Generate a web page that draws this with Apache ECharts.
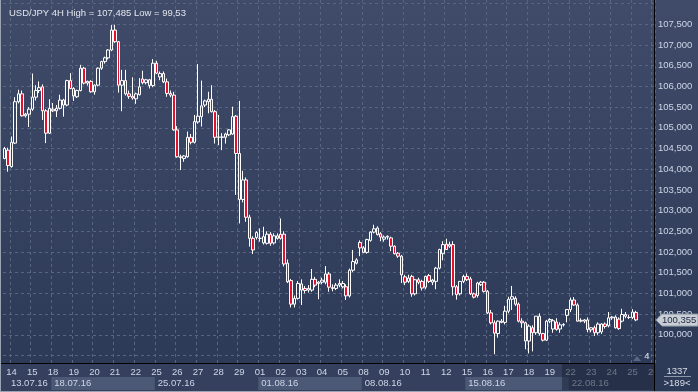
<!DOCTYPE html>
<html><head><meta charset="utf-8">
<script src="https://cdn.jsdelivr.net/npm/echarts@6/dist/echarts.min.js"></script>
<style>
html,body{margin:0;padding:0;width:698px;height:392px;overflow:hidden;background:linear-gradient(#3f4b68,#2c3956);}
#c{width:698px;height:392px;}
</style>
</head><body><div id="c"></div>
<script>
// ---- data ----
const dates = ['13.07.16','14.07.16','15.07.16','18.07.16','19.07.16','20.07.16','21.07.16','22.07.16',
  '25.07.16','26.07.16','27.07.16','28.07.16','29.07.16','01.08.16','02.08.16','03.08.16','04.08.16','05.08.16',
  '08.08.16','09.08.16','10.08.16','11.08.16','12.08.16','15.08.16','16.08.16','17.08.16','18.08.16','19.08.16',
  '22.08.16','23.08.16','24.08.16','25.08.16','26.08.16'];
const hours = ['00:00','04:00','08:00','12:00','16:00','20:00'];
const firstDayHours = ['16:00','20:00'];
const lastDayHours = ['00:00'];
const weekLabels = ['13.07.16','18.07.16','25.07.16','01.08.16','08.08.16','15.08.16','22.08.16'];
const yTickLabels = [100.0,100.5,101.0,101.5,102.0,102.5,103.0,103.5,104.0,104.5,105.0,105.5,106.0,106.5,107.0,107.5];
const yGridValues = [99.5,100.0,100.5,101.0,101.5,102.0,102.5,103.0,103.5,104.0,104.5,105.0,105.5,106.0,106.5,107.0,107.5,108.0];
const titleText = 'USD/JPY 4H High = 107,485 Low = 99,53';
const lastPrice = 100.355;
const barsCount = '1337';
const visibleBars = '>189<';

const open = [104.26,104.46,104.06,104.63,105.63,105.82,105.29,105.33,105.45,105.74,105.90,105.99,105.41,104.87,105.45,105.41,105.47,105.67,105.55,106.14,
105.95,105.75,105.90,106.44,106.08,106.12,105.87,106.03,106.44,106.60,106.69,106.88,107.36,107.08,106.03,106.14,105.82,105.76,105.70,105.80,
106.18,106.09,106.16,106.02,106.56,106.23,106.31,106.11,105.83,105.79,104.95,104.30,104.26,104.30,104.77,104.65,105.14,105.27,105.55,105.63,
105.69,105.39,104.77,104.78,104.77,104.83,104.85,105.28,104.38,103.27,103.74,102.84,102.33,102.35,102.33,102.22,102.21,102.43,102.22,102.39,
102.43,102.43,101.73,101.31,100.74,100.88,101.23,101.12,101.08,101.08,101.34,101.24,101.27,101.27,101.47,101.14,101.12,101.20,101.16,101.16,
100.94,101.56,101.73,102.23,102.10,101.99,102.28,102.48,102.58,102.44,102.31,102.36,102.34,102.14,101.97,101.90,101.40,101.29,101.41,100.99,
101.33,101.29,101.15,101.43,101.27,101.29,101.61,101.96,102.19,102.14,102.18,101.16,100.99,101.29,101.41,101.35,100.99,100.95,101.21,101.27,
101.05,100.53,100.29,100.03,100.33,100.30,100.57,100.86,100.88,100.74,100.33,100.29,99.85,100.17,100.05,100.45,100.03,99.87,100.33,100.14,
100.31,100.14,100.24,100.47,100.61,100.84,100.72,100.35,100.33,100.36,100.12,100.17,100.05,100.07,100.26,100.22,100.41,100.43,100.38,100.33,
100.45,100.42,100.42,100.54];
const high = [104.54,104.52,104.79,105.74,105.92,105.90,105.36,105.50,106.31,106.03,106.12,106.05,105.45,105.69,105.60,105.55,105.80,105.70,106.16,106.32,
105.98,105.92,106.52,106.47,106.14,106.15,106.05,106.46,106.62,106.72,106.90,107.48,107.49,107.10,106.40,106.40,105.90,106.22,105.85,106.20,
106.38,106.18,106.18,106.66,106.62,106.36,106.36,106.19,105.90,105.87,105.04,104.35,104.34,104.91,104.85,105.31,106.54,106.14,105.68,105.87,
106.03,105.43,105.31,104.87,104.88,104.97,105.51,105.31,105.65,103.96,103.80,102.90,102.38,102.50,102.57,102.61,102.50,102.48,102.45,102.45,
102.81,102.50,101.82,101.35,100.95,101.30,101.34,101.18,101.20,101.59,101.40,101.30,101.38,101.66,101.52,101.22,101.25,101.34,101.30,101.22,
101.60,102.05,101.85,102.28,102.14,102.32,102.50,102.66,102.62,102.48,102.40,102.40,102.37,102.16,102.00,101.93,101.45,101.45,101.45,101.35,
101.38,101.33,101.43,101.47,101.35,101.64,102.08,102.26,102.32,102.25,102.26,101.20,101.30,101.45,101.48,101.40,101.02,101.28,101.30,101.30,
101.08,100.60,100.35,100.35,100.38,100.70,100.92,101.18,100.93,100.78,100.40,100.32,100.25,100.23,100.45,100.52,100.05,100.36,100.40,100.38,
100.40,100.30,100.28,100.62,100.90,100.91,100.76,100.40,100.38,100.42,100.18,100.22,100.30,100.28,100.30,100.55,100.45,100.47,100.42,100.63,
100.55,100.48,100.62,100.58];
const low = [104.24,103.94,104.04,104.61,105.59,105.27,105.25,105.02,105.41,105.66,105.84,105.19,104.63,104.85,105.38,105.26,105.44,105.27,105.52,105.93,
105.65,105.72,105.88,106.05,106.02,105.85,105.80,106.00,106.40,106.55,106.65,106.85,107.05,105.85,105.40,105.78,105.70,105.68,105.58,105.78,
106.05,106.05,105.95,105.98,106.30,106.15,106.08,105.75,105.74,104.93,104.28,103.98,104.18,104.28,104.60,104.62,105.10,105.03,105.50,105.35,
105.37,104.62,104.58,104.46,104.62,104.80,104.83,103.38,102.69,103.20,102.73,102.13,101.95,102.30,102.25,102.18,102.18,102.15,102.18,102.30,
102.30,101.65,101.25,100.66,100.66,100.85,100.72,101.00,101.02,101.04,101.15,100.86,101.22,101.22,101.04,101.05,101.08,101.15,101.12,100.84,
100.90,101.52,101.70,101.90,101.97,101.96,102.25,102.45,102.40,102.26,102.25,102.30,102.02,101.94,101.86,101.25,101.20,101.25,100.92,100.95,
101.22,101.07,101.10,101.25,101.20,101.10,101.58,101.80,102.05,102.10,100.95,100.85,100.95,101.25,101.30,100.96,100.88,100.90,101.18,101.02,
100.50,100.25,99.53,99.93,100.28,100.25,100.52,100.60,100.70,100.30,100.17,99.65,99.55,99.60,100.00,99.98,99.84,99.85,100.28,100.05,
100.10,100.05,100.20,100.30,100.55,100.70,100.32,100.30,100.28,100.06,100.06,99.97,100.00,100.02,100.15,100.18,100.36,100.15,100.12,100.30,
100.40,100.38,100.38,100.33];
const close = [104.50,104.09,104.65,105.63,105.82,105.29,105.33,105.45,105.74,105.90,105.97,105.41,104.87,105.47,105.41,105.47,105.67,105.55,106.14,105.95,
105.77,105.90,106.44,106.08,106.12,105.87,106.03,106.44,106.60,106.69,106.88,107.36,107.08,106.03,106.14,105.82,105.76,105.72,105.82,105.99,
106.09,106.16,106.02,106.56,106.32,106.31,106.11,105.83,105.79,104.95,104.30,104.28,104.32,104.77,104.65,105.15,105.28,105.53,105.65,105.69,
105.39,104.77,104.78,104.77,104.85,104.95,105.27,104.38,103.27,103.74,102.84,102.33,102.05,102.47,102.33,102.37,102.43,102.21,102.39,102.33,
102.33,101.71,101.28,100.74,100.88,101.24,101.08,101.07,101.12,101.34,101.20,101.27,101.32,101.47,101.15,101.12,101.20,101.24,101.24,100.94,
101.56,101.77,101.81,102.10,101.99,102.30,102.48,102.56,102.42,102.36,102.36,102.38,102.14,101.96,101.90,101.45,101.27,101.37,100.99,101.33,
101.27,101.13,101.41,101.29,101.32,101.61,102.06,102.18,102.06,102.18,101.16,100.97,101.29,101.41,101.33,100.99,100.91,101.25,101.27,101.05,
100.53,100.29,100.04,100.33,100.30,100.57,100.86,100.92,100.74,100.33,100.29,99.85,100.21,100.05,100.45,100.03,99.87,100.33,100.37,100.34,
100.13,100.24,100.25,100.61,100.84,100.72,100.33,100.33,100.36,100.13,100.17,100.05,100.26,100.26,100.20,100.41,100.43,100.17,100.15,100.49,
100.49,100.42,100.55,100.36];

// ---- build categories ----
const categories = [];
const dayOfSlot = [];
dates.forEach((d, di) => {
  const hs = di === 0 ? firstDayHours : (di === dates.length - 1 ? lastDayHours : hours);
  hs.forEach(h => { categories.push(d + ' ' + h); dayOfSlot.push(di); });
});
const isDayStart = i => i > 0 && dayOfSlot[i] !== dayOfSlot[i - 1];
const candleData = open.map((o, i) => [o, close[i], low[i], high[i]]);
const fmt = v => v.toFixed(3).replace('.', ',');

const FONT = 'Liberation Sans';
const chart = echarts.init(document.getElementById('c'), null, {renderer: 'canvas'});
const option = {
  animation: false,
  backgroundColor: 'transparent',
  title: {text: titleText, left: 4, top: 3,
    textStyle: {color: '#e0e5ee', fontSize: 9.5, fontWeight: 'normal', fontFamily: FONT}},
  grid: {left: 3, right: 43, top: 0, bottom: 29},
  xAxis: [{
    type: 'category', data: categories, boundaryGap: true,
    axisLine: {show: false}, axisTick: {show: false},
    axisLabel: {interval: (i) => isDayStart(i), formatter: v => v.slice(0, 2),
      color: '#cdd6e6', fontSize: 9.5, fontFamily: FONT, margin: 4},
    splitLine: {show: true, interval: (i) => isDayStart(i),
      lineStyle: {color: '#58657f', type: [3, 3], width: 1}}
  }],
  yAxis: [{
    type: 'value', position: 'right', min: 99.319, max: 108.087, scale: true,
    axisLine: {show: false},
    axisTick: {show: false, customValues: yGridValues},
    axisLabel: {customValues: yTickLabels, formatter: fmt, color: '#cdd6e6', fontSize: 9.5,
      fontFamily: FONT, margin: 3, align: 'left'},
    splitLine: {show: true, lineStyle: {color: '#58657f', type: [3, 3], width: 1}}
  }],
  series: [{
    type: 'candlestick', data: candleData, barWidth: 3,
    itemStyle: {color: 'rgba(0,0,0,0)', color0: '#e6102e', borderColor: '#ffffff', borderColor0: '#ffffff', borderWidth: 1},
    emphasis: {disabled: true}, silent: true
  }]
};
chart.setOption(option);

// ---- panels and labels positioned through the chart's scales ----
const px = i => chart.convertToPixel({xAxisIndex: 0}, i);
const bw = px(1) - px(0);
const edge = i => px(i) - bw / 2;
const plotRight = edge(categories.length - 1) + bw;
const axisY = chart.convertToPixel({yAxisIndex: 0}, 99.319);
const g = [];
g.push({type: 'rect', z: -10, shape: {x: 0, y: axisY, width: plotRight, height: 392 - axisY}, style: {fill: '#34405d'}});
// week bands and labels
const mondays = [];
for (let i = 0; i < categories.length; i++) {
  if (isDayStart(i) && weekLabels.indexOf(dates[dayOfSlot[i]]) >= 0) mondays.push(i);
}
mondays.forEach((m, k) => {
  const next = k + 1 < mondays.length ? mondays[k + 1] : categories.length;
  if (k % 2 === 0) {
    g.push({type: 'rect', z: -9, shape: {x: edge(m), y: axisY + 14, width: edge(next) - edge(m), height: 13}, style: {fill: '#4b5876'}});
  }
  g.push({type: 'text', z: 5, x: edge(m) + 3, y: axisY + 20.5,
    style: {text: dates[dayOfSlot[m]], fill: '#cdd6e6', font: '9.5px ' + FONT, verticalAlign: 'middle'}});
});
// first (partial) week label
const firstDay = categories.findIndex((c, i) => isDayStart(i));
g.push({type: 'text', z: 5, x: edge(firstDay) + 1, y: axisY + 20.5,
  style: {text: weekLabels[0], fill: '#cdd6e6', font: '9.5px ' + FONT, verticalAlign: 'middle'}});
// dimmed overlay on the right of the time scale
g.push({type: 'rect', z: 60, shape: {x: 562, y: axisY, width: plotRight - 562, height: 392 - axisY - 2}, style: {fill: 'rgba(28,36,56,0.55)'}});
// right bottom panel
g.push({type: 'rect', z: 61, shape: {x: plotRight, y: axisY, width: 698 - plotRight, height: 392 - axisY}, style: {fill: '#2d3a57'}});
g.push({type: 'text', z: 62, x: 677, y: axisY + 8, style: {text: barsCount, fill: '#d8dee8', font: '9.5px ' + FONT, align: 'center', verticalAlign: 'middle'}});
g.push({type: 'line', z: 62, shape: {x1: 664, y1: axisY + 13.5, x2: 691, y2: axisY + 13.5}, style: {stroke: '#8d97aa', lineWidth: 1}});
g.push({type: 'text', z: 62, x: 677, y: axisY + 20.5, style: {text: visibleBars, fill: '#d8dee8', font: '9.5px ' + FONT, align: 'center', verticalAlign: 'middle'}});
// separator lines
g.push({type: 'line', z: 70, shape: {x1: 0, y1: Math.round(axisY) + 0.5, x2: plotRight, y2: Math.round(axisY) + 0.5}, style: {stroke: '#000', lineWidth: 1}});
g.push({type: 'line', z: 70, shape: {x1: Math.round(plotRight) - 0.5, y1: 0, x2: Math.round(plotRight) - 0.5, y2: 392}, style: {stroke: '#000', lineWidth: 1}});
// window border
g.push({type: 'line', z: 70, shape: {x1: 0.5, y1: 0, x2: 0.5, y2: 392}, style: {stroke: '#9aa3b4', lineWidth: 1}});
g.push({type: 'line', z: 70, shape: {x1: 0, y1: 391.5, x2: 698, y2: 391.5}, style: {stroke: '#9aa3b4', lineWidth: 1}});
// last price tag
const py = chart.convertToPixel({yAxisIndex: 0}, lastPrice);
g.push({type: 'polygon', z: 65, shape: {points: [[plotRight + 1, py], [plotRight + 7, py - 6], [698, py - 6], [698, py + 6], [plotRight + 7, py + 6]]},
  style: {fill: '#c9cdd4', stroke: '#8e97a8', lineWidth: 1}});
g.push({type: 'text', z: 66, x: plotRight + 7, y: py, style: {text: fmt(lastPrice), fill: '#1b2946', font: '9.5px ' + FONT, verticalAlign: 'middle'}});
// shift marker
g.push({type: 'polygon', z: 20, shape: {points: [[633, axisY - 2], [637, axisY - 7], [641, axisY - 2]]}, style: {fill: '#5b6780'}});
g.push({type: 'text', z: 20, x: 647, y: axisY - 7, style: {text: '4', fill: '#dfe4ee', font: '9.5px ' + FONT, align: 'center', verticalAlign: 'middle'}});

chart.setOption({graphic: {elements: g}});
</script>
</body></html>
